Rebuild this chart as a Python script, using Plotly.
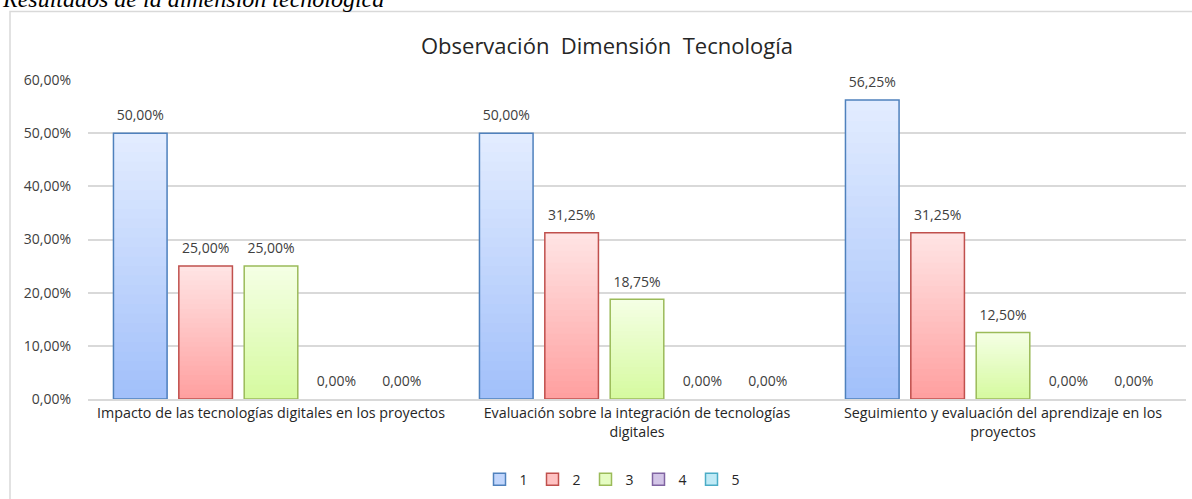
import plotly.graph_objects as go

categories = [
    "Impacto de las tecnologías digitales en los proyectos",
    "Evaluación sobre la integración de tecnologías<br>digitales",
    "Seguimiento y evaluación del aprendizaje en los<br>proyectos",
]
series_names = ["1", "2", "3", "4", "5"]
values = {
    "1": [0.50, 0.50, 0.5625],
    "2": [0.25, 0.3125, 0.3125],
    "3": [0.25, 0.1875, 0.125],
    "4": [0.0, 0.0, 0.0],
    "5": [0.0, 0.0, 0.0],
}
y_ticks = [0, 0.1, 0.2, 0.3, 0.4, 0.5, 0.6]

# gradient colours (top, bottom) and borders
top_col = {"1": (226, 236, 255), "2": (255, 228, 228), "3": (244, 255, 228),
           "4": (232, 224, 242), "5": (224, 246, 252)}
bot_col = {"1": (162, 192, 250), "2": (255, 160, 160), "3": (214, 250, 160),
           "4": (190, 170, 220), "5": (160, 222, 240)}
borders = {"1": "#4F81BD", "2": "#C0504D", "3": "#9BBB59", "4": "#8064A2", "5": "#4BACC6"}

FONT = "Open Sans"
STEPS = 28


def mix(a, b, t):
    return "rgb(%d,%d,%d)" % tuple(round(a[i] + (b[i] - a[i]) * t) for i in range(3))


fig = go.Figure()
for s in series_names:
    vals = values[s]
    lw = [1.5 if v > 0 else 0 for v in vals]
    # legend-only entry (no drawn bar)
    fig.add_trace(go.Bar(
        x=[categories[0]], y=[None], name=s, offsetgroup=s,
        marker=dict(color=mix(top_col[s], bot_col[s], 0.5), line=dict(color=borders[s], width=1.5)),
        hoverinfo="skip",
    ))
    # gradient layers: shorter bars drawn on top get darker colours
    for k in range(STEPS):
        frac = (STEPS - k) / STEPS
        fig.add_trace(go.Bar(
            x=categories, y=[v * frac for v in vals], offsetgroup=s, showlegend=False,
            marker=dict(color=mix(top_col[s], bot_col[s], k / (STEPS - 1)), line=dict(width=0)),
            hoverinfo="skip",
        ))
    # outline + label trace on top
    fig.add_trace(go.Bar(
        x=categories, y=vals, offsetgroup=s, showlegend=False,
        marker=dict(color="rgba(0,0,0,0)", line=dict(color=borders[s], width=lw)),
        texttemplate="<span style='font-size:14px'>%{y:.2%}</span><br> ",
        textposition="outside",
        textfont=dict(family=FONT, size=6, color="#404040"),
        constraintext="none",
        cliponaxis=False,
    ))

fig.update_layout(
    width=1192, height=499,
    margin=dict(l=88, r=6, t=80, b=100, autoexpand=False),
    paper_bgcolor="white", plot_bgcolor="white",
    separators=",.",
    barmode="group", bargap=0.107, bargroupgap=0.18,
    font=dict(family=FONT, color="#404040"),
    title=dict(text="Observación  Dimensión  Tecnología", x=607 / 1192, xref="container",
               xanchor="center", y=1 - 46 / 499, yanchor="middle",
               font=dict(family=FONT, size=22, color="#262626")),
    yaxis=dict(range=[0, 0.6], tickvals=y_ticks, tickformat=".2%",
               gridcolor="#D9D9D9", gridwidth=1.5, zeroline=False,
               showline=False, ticks="", ticklabelstandoff=16,
               tickfont=dict(family=FONT, size=14, color="#404040")),
    xaxis=dict(showline=True, linecolor="#D9D9D9", linewidth=1.5, ticks="",
               tickfont=dict(family=FONT, size=14.3, color="#262626")),
    legend=dict(orientation="h", x=612 / 1192, xref="container", xanchor="center",
                y=-0.253, yanchor="middle",
                font=dict(family=FONT, size=14, color="#262626"),
                itemwidth=30, entrywidth=8, traceorder="normal"),
    showlegend=True,
)

fig.add_shape(type="rect", xref="paper", yref="paper",
              x0=(10 - 88) / 1098, x1=1.02, y0=-0.4, y1=1 + (80 - 11.5) / 319,
              line=dict(color="#D9D9D9", width=1.5), fillcolor="rgba(0,0,0,0)", layer="below")

fig.add_annotation(text="<i>Resultados de la dimensión tecnológica</i>",
                   xref="paper", yref="paper", x=(0 - 88) / 1098, xanchor="left",
                   y=1 + (80 - 14) / 319, yanchor="bottom", showarrow=False,
                   font=dict(family="Liberation Serif", size=24, color="black"))

fig.write_html("out.html", config={"displayModeBar": False},
               post_script="document.body.style.margin='0';")
